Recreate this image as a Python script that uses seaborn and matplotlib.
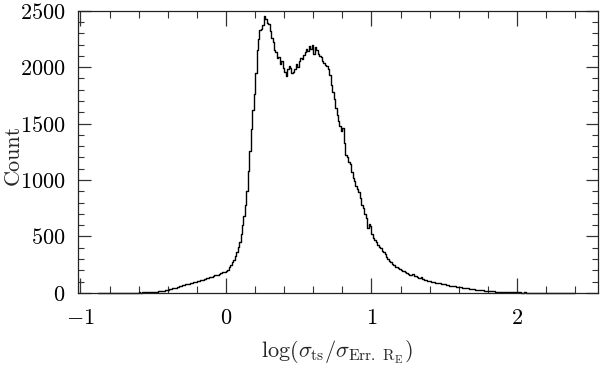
import numpy as np
import pandas as pd
import matplotlib
matplotlib.use("Agg")
import matplotlib.pyplot as plt
import seaborn as sns
from matplotlib.ticker import MultipleLocator

# histogram of log(sigma_ts / sigma_Err.RE): bins of width 0.01 starting at -0.88
bin_start = -0.88
bin_width = 0.01
counts = [
    0, 0, 0, 0, 1, 0, 0, 1, 0, 0,                             # -0.88
    1, 0, 1, 1, 0, 1, 2, 1, 1, 2,                             # -0.78
    1, 2, 2, 3, 2, 2, 3, 3, 4, 3,                             # -0.68
    4, 5, 4, 5, 6, 6, 7, 8, 9, 10,                            # -0.58
    12, 13, 15, 17, 18, 21, 24, 27, 30, 34,                   # -0.48
    36, 40, 43, 47, 52, 56, 60, 65, 70, 72,                   # -0.38
    76, 80, 82, 86, 90, 95, 98, 96, 102, 108,                 # -0.28
    112, 118, 115, 124, 130, 128, 138, 145, 142, 150,         # -0.18
    156, 162, 160, 170, 175, 182, 188, 186, 196, 205,         # -0.08
    230, 245, 270, 295, 330, 365, 410, 450, 520, 600,         # 0.02
    680, 780, 900, 1080, 1260, 1450, 1620, 1760, 1950, 2150,  # 0.12
    2250, 2330, 2340, 2370, 2450, 2430, 2395, 2385, 2320, 2260,  # 0.22
    2220, 2150, 2130, 2080, 2090, 2030, 2050, 1990, 1960, 1920,  # 0.32
    1980, 2010, 1990, 1950, 1960, 1980, 2030, 2000, 2050, 2080,  # 0.42
    2070, 2110, 2130, 2160, 2140, 2190, 2160, 2200, 2120, 2180,  # 0.52
    2150, 2120, 2100, 2090, 2050, 2040, 2020, 2010, 1980, 1930,  # 0.62
    1840, 1780, 1720, 1640, 1580, 1520, 1480, 1430, 1460, 1330,  # 0.72
    1220, 1200, 1160, 1140, 1070, 1020, 990, 950, 920, 890,   # 0.82
    840, 780, 750, 700, 660, 575, 610, 590, 520, 490,         # 0.92
    470, 450, 425, 410, 395, 375, 360, 345, 320, 300,         # 1.02
    285, 270, 260, 245, 232, 228, 220, 210, 205, 198,         # 1.12
    190, 182, 176, 168, 162, 158, 170, 150, 146, 140,         # 1.22
    136, 132, 140, 124, 118, 112, 108, 105, 102, 99,          # 1.32
    96, 94, 92, 90, 88, 86, 82, 78, 75, 72,                   # 1.42
    68, 65, 63, 62, 60, 58, 56, 55, 53, 50,                   # 1.52
    48, 46, 44, 42, 40, 38, 36, 34, 32, 30,                   # 1.62
    29, 27, 26, 24, 22, 21, 19, 18, 17, 16,                   # 1.72
    15, 14, 13, 12, 11, 10, 9, 9, 8, 8,                       # 1.82
    7, 7, 6, 6, 5, 5, 5, 4, 4, 4,                             # 1.92
    4, 3, 3, 4, 3, 3, 2, 3, 2, 2,                             # 2.02
    2, 2, 1, 2, 2, 1, 1, 2, 1, 1,                             # 2.12
    1, 1, 0, 1, 1, 0, 1, 0, 1, 0,                             # 2.22
    0, 1, 0, 0, 0, 1, 0, 0,                                   # 2.32
]

n_bins = len(counts)
bin_end = bin_start + bin_width * n_bins
centers = bin_start + bin_width * (np.arange(n_bins) + 0.5)
df = pd.DataFrame({"x": centers, "w": counts})

sns.set_theme(style="ticks")
plt.rcParams["font.family"] = "serif"
plt.rcParams["font.serif"] = ["cmr10", "DejaVu Serif"]
plt.rcParams["mathtext.fontset"] = "cm"
plt.rcParams["axes.formatter.use_mathtext"] = True

fig = plt.figure(figsize=(6, 3.68), dpi=100)
ax = fig.add_axes([0.13, 0.204, 0.8667, 0.767])

sns.histplot(data=df, x="x", weights="w", binwidth=bin_width,
             binrange=(bin_start, bin_end), element="step", fill=False,
             color="black", linewidth=1.0, ax=ax)

# let the zero-level part of the outline sit on top of the bottom spine
for ln in ax.lines:
    ln.set_clip_on(False)

ax.set_xlim(-1.017, 2.557)
ax.set_ylim(0, 2500)

ax.xaxis.set_major_locator(MultipleLocator(1))
ax.xaxis.set_minor_locator(MultipleLocator(0.2))
ax.yaxis.set_major_locator(MultipleLocator(500))
ax.yaxis.set_minor_locator(MultipleLocator(100))

ax.tick_params(axis="both", which="both", direction="in", top=True, right=True,
               colors="#333333", labelcolor="black", labelsize=16)
ax.tick_params(axis="x", which="major", length=10.5, width=0.9, pad=11)
ax.tick_params(axis="x", which="minor", length=5, width=0.8)
ax.tick_params(axis="y", which="major", length=9, width=0.9, pad=9)
ax.tick_params(axis="y", which="minor", length=4, width=0.8)

for s in ax.spines.values():
    s.set_linewidth(0.9)
    s.set_color("#222222")

ax.set_xlabel(r"$\log(\sigma_{\rm ts}/\sigma_{\rm Err.\ R_{E}})$", fontsize=16)
ax.set_ylabel("Count", fontsize=16)
ax.xaxis.set_label_coords(0.498, -0.16)
ax.yaxis.set_label_coords(-0.106, 0.49)

fig.savefig("out.png", dpi=100)
